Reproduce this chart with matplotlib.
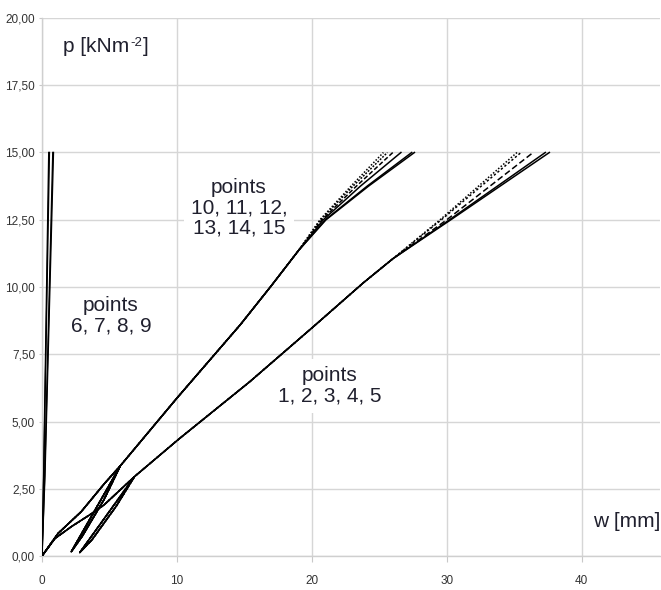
import matplotlib
matplotlib.use("Agg")
import matplotlib.pyplot as plt

plt.rcParams['font.family'] = ['Liberation Sans', 'DejaVu Sans']

# ---- data: w [mm], p [kN/m2] ----
# points 1-5: initial loading, unloading, reloading, then main branch
w_1_5_base = [0, 0.96, 2.2, 3.6, 4.6, 6.85, 2.8, 3.7, 5.5, 6.85, 10.1, 15.4, 20.1, 23.8, 26.0]
p_1_5_base = [0, 0.65, 1.1, 1.55, 1.9, 2.95, 0.13, 0.6, 1.85, 2.95, 4.33, 6.48, 8.52, 10.15, 11.05]
p_1_5_top = [12.5, 15.0]
w_1_5_top = [[29.5, 35.2], [29.6, 35.5], [30.0, 36.4], [30.2, 37.3], [30.3, 37.6]]

# points 6-9: almost vertical
p_6_9 = [0, 3.0, 15.0]
w_6_9 = [[0, 0.12, 0.50], [0, 0.13, 0.55], [0, 0.20, 0.80], [0, 0.22, 0.85]]

# points 10-15
w_10_15_base = [0, 1.19, 2.91, 4.64, 5.8, 2.17, 3.0, 4.6, 5.8, 10.0, 14.7, 17.0, 19.0]
p_10_15_base = [0, 0.84, 1.65, 2.7, 3.35, 0.16, 0.75, 2.1, 3.35, 5.87, 8.6, 10.05, 11.35]
p_10_15_top = [12.5, 13.75, 15.0]
w_10_15_top = [[20.6, 22.9, 25.3], [20.65, 23.05, 25.6], [20.75, 23.3, 26.0],
               [20.85, 23.6, 26.6], [21.0, 24.1, 27.4], [21.05, 24.2, 27.6]]

styles_1_5 = [(0, (1, 1.2)), (0, (1.5, 1.5)), (0, (4, 2)), '-', '-']
styles_10_15 = [(0, (1, 1.2)), (0, (1.2, 1.0)), (0, (3, 1.5)), '-', '-', '-']

y_ticks = [0, 2.5, 5, 7.5, 10, 12.5, 15, 17.5, 20]
y_labels = ['0,00', '2,50', '5,00', '7,50', '10,00', '12,50', '15,00', '17,50', '20,00']
x_ticks = [0, 10, 20, 30, 40]
x_labels = ['0', '10', '20', '30', '40']

fig = plt.figure(figsize=(6.61, 5.90), dpi=100)
ax = fig.add_axes([42 / 661, 34 / 590, 618 / 661, 538 / 590])

for w_top, ls in zip(w_1_5_top, styles_1_5):
    ax.plot(w_1_5_base + w_top, p_1_5_base + p_1_5_top, color='black', lw=1.1, ls=ls, zorder=3)

for w in w_6_9:
    ax.plot(w, p_6_9, color='black', lw=1.0, zorder=3)

for w_top, ls in zip(w_10_15_top, styles_10_15):
    ax.plot(w_10_15_base + w_top, p_10_15_base + p_10_15_top, color='black', lw=1.1, ls=ls, zorder=3)

ax.set_xlim(0, 45.8)
ax.set_ylim(0, 20)
ax.set_xticks(x_ticks)
ax.set_xticklabels(x_labels)
ax.set_yticks(y_ticks)
ax.set_yticklabels(y_labels)
ax.tick_params(axis='x', length=4, width=0.8, color='#c8c8c8', pad=10, labelsize=8.5, labelcolor='#333333')
ax.tick_params(axis='y', length=2, width=0.8, color='#c8c8c8', pad=3, labelsize=8.5, labelcolor='#333333')

ax.grid(True, color='#d6d6d6', lw=1.0, zorder=0)
ax.set_axisbelow(True)
for s in ['top', 'right']:
    ax.spines[s].set_visible(False)
for s in ['left', 'bottom']:
    ax.spines[s].set_color('#cfcfcf')
    ax.spines[s].set_linewidth(1.0)

txt_color = '#20202e'
box = dict(facecolor='white', edgecolor='none', pad=5)

# axis titles: "p [kNm" + small raised "-2" + "]"
t1 = ax.text(1.56, 18.75, 'p [kNm', fontsize=15, color=txt_color, ha='left', va='baseline')
t2 = ax.annotate('-2', xy=(1, 1), xycoords=t1, xytext=(0.5, 0), textcoords='offset points',
                 fontsize=9.5, color=txt_color, ha='left', va='top')
ax.annotate(']', xy=(1, 0), xycoords=(t2, t1), xytext=(0.5, 0), textcoords='offset points',
            fontsize=15, color=txt_color, ha='left', va='bottom')

ax.text(5.1, 8.92, 'points\n6, 7, 8, 9', fontsize=15, color=txt_color, ha='center', va='center',
        linespacing=1.1, bbox=box, zorder=2)
ax.text(14.6, 12.94, 'points\n10, 11, 12,\n13, 14, 15', fontsize=15, color=txt_color, ha='center',
        va='center', linespacing=1.1, bbox=box, zorder=2)
ax.text(21.3, 6.32, 'points\n1, 2, 3, 4, 5', fontsize=15, color=txt_color, ha='center', va='center',
        linespacing=1.1, bbox=box, zorder=2)
ax.text(43.3, 1.3, 'w [mm]', fontsize=15, color=txt_color, ha='center', va='center',
        bbox=box, zorder=2)

plt.savefig('out.png', dpi=100)
